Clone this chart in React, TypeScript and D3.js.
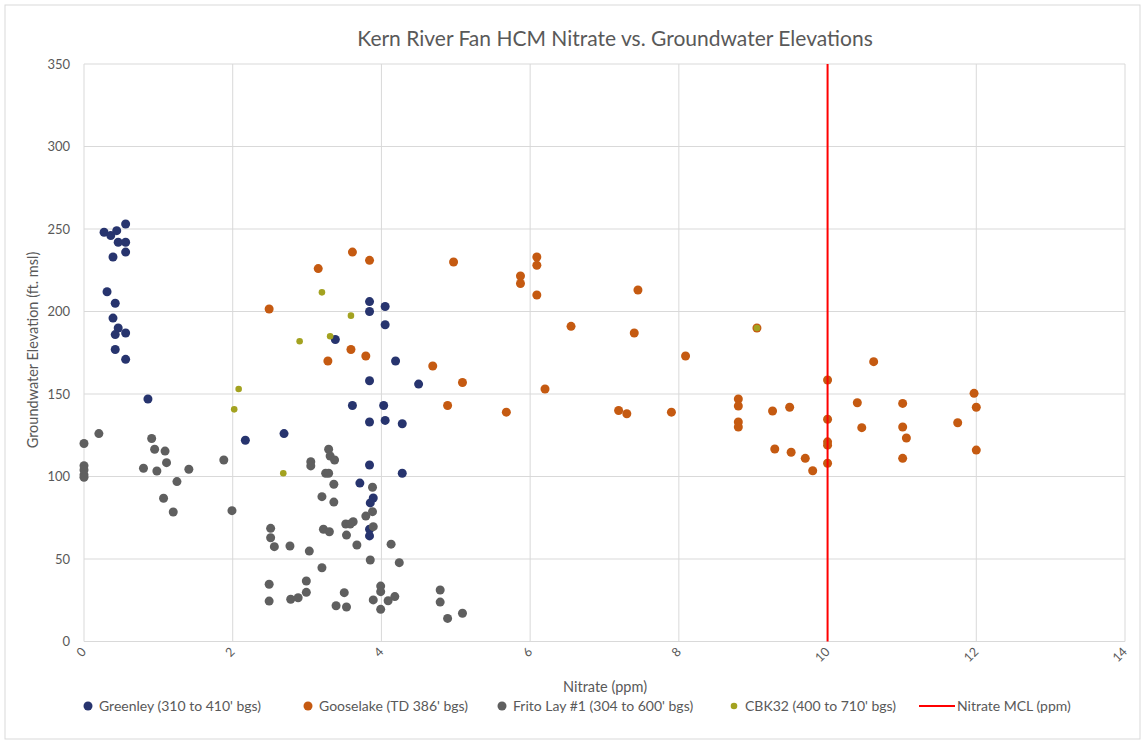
import React from "react";
import * as d3 from "d3";

const TITLE = "Kern River Fan HCM Nitrate vs. Groundwater Elevations";
const X_TICKS = [0, 2, 4, 6, 8, 10, 12, 14];
const Y_TICKS = [0, 50, 100, 150, 200, 250, 300, 350];
const MCL = 10;

const greenley: [number, number][] = [
  [0.27, 248], [0.36, 246], [0.44, 249], [0.56, 253], [0.46, 242], [0.56, 242],
  [0.56, 236], [0.39, 233], [0.31, 212], [0.42, 205], [0.39, 196], [0.46, 190],
  [0.42, 186], [0.56, 187], [0.42, 177], [0.56, 171], [0.86, 147],
  [2.17, 122], [2.69, 126], [3.61, 143], [4.03, 143], [3.84, 133], [4.05, 134],
  [4.28, 132], [3.84, 107], [4.28, 102], [3.71, 96], [3.89, 87], [3.85, 84],
  [3.84, 68], [3.84, 64], [3.84, 206], [3.84, 200], [4.05, 203], [4.05, 192],
  [3.38, 183], [4.19, 170], [3.84, 158], [4.5, 156],
];

const gooselake: [number, number][] = [
  [3.61, 236], [3.84, 231], [4.97, 230], [3.15, 226], [2.49, 201.5], [3.59, 177],
  [3.79, 173], [3.28, 170], [4.69, 167], [5.09, 157], [4.89, 143], [6.09, 233],
  [6.09, 228], [5.87, 221.5], [5.87, 217], [6.09, 210], [7.45, 213], [6.55, 191],
  [7.4, 187], [8.09, 173], [6.2, 153], [5.68, 139], [7.19, 140], [7.3, 138],
  [7.9, 139], [9.05, 190], [8.8, 147], [8.8, 142.7], [8.8, 133], [8.8, 130],
  [9.26, 139.7], [9.49, 142], [10.0, 158.5], [10.0, 134.7], [10.0, 121],
  [10.0, 119], [10.0, 108], [9.29, 116.7], [9.51, 114.7], [9.7, 111], [9.8, 103.5],
  [10.62, 169.6], [10.4, 144.7], [10.46, 129.6], [11.01, 144.3], [11.01, 130],
  [11.06, 123.3], [11.01, 111], [11.75, 132.6], [11.97, 150.4], [12.0, 142],
  [12.0, 116],
];

const fritoLay: [number, number][] = [
  [0.0, 120], [0.2, 126], [0.0, 106.5], [0.0, 104], [0.0, 101], [0.0, 99.5],
  [0.91, 123], [0.95, 116.5], [1.09, 115.4], [1.11, 108.4], [0.8, 105], [0.98, 103.3],
  [1.25, 96.9], [1.41, 104.4], [1.07, 86.8], [1.2, 78.5], [1.88, 110], [1.99, 79.3],
  [3.29, 116.5], [3.31, 112.4], [3.37, 110], [3.05, 109], [3.05, 106.4], [3.25, 102],
  [3.29, 102], [3.36, 95.3], [3.2, 87.8], [3.36, 84.5], [3.88, 93.5], [3.88, 78.7],
  [3.79, 76], [3.89, 69.6], [3.52, 71.2], [3.62, 72.6], [3.58, 71.2], [3.22, 68],
  [3.3, 66.5], [3.53, 64.5], [3.67, 58.5], [4.13, 59], [2.51, 68.6], [2.51, 62.9],
  [2.56, 57.5], [2.77, 57.9], [3.03, 54.8], [3.2, 44.7], [3.85, 49.4], [4.24, 47.8],
  [2.49, 34.7], [2.99, 36.7], [2.99, 29.8], [2.49, 24.5], [2.78, 25.6], [2.88, 26.5],
  [3.5, 29.6], [3.39, 21.7], [3.53, 20.9], [3.99, 33.6], [3.99, 30.2], [3.89, 25.2],
  [3.99, 19.5], [4.09, 24.7], [4.18, 27.2], [4.79, 31.2], [4.79, 23.9], [4.89, 14],
  [5.09, 17.1],
];

const cbk32: [number, number][] = [
  [3.2, 211.6], [3.59, 197.5], [2.9, 182], [3.31, 185], [2.08, 153], [2.02, 140.7],
  [2.68, 102], [9.05, 190],
];

const SERIES = [
  { name: "Greenley (310 to 410' bgs)", data: greenley, color: "#27346e", r: 4.5 },
  { name: "Gooselake (TD 386' bgs)", data: gooselake, color: "#c55a11", r: 4.5 },
  { name: "Frito Lay #1 (304 to 600' bgs)", data: fritoLay, color: "#5f5f5f", r: 4.5 },
  { name: "CBK32 (400 to 710' bgs)", data: cbk32, color: "#a3a220", r: 3.3 },
];
const MCL_NAME = "Nitrate MCL (ppm)";
const LEGEND_X = [88, 308, 502, 734];

const W = 1143;
const H = 744;
const FONT = "Lato, 'Open Sans', sans-serif";
const TXT = "#595959";

export default function App() {
  const x = d3.scaleLinear().domain([0, 14]).range([84, 1125]);
  const y = d3.scaleLinear().domain([0, 350]).range([641.5, 64]);

  return (
    <svg
      width={W}
      height={H}
      style={{ position: "absolute", left: 0, top: 0, background: "#fff" }}
      fontFamily={FONT}
    >
      <rect x={5} y={5} width={1135} height={734} fill="#fff" stroke="#d9d9d9" />
      <text x={615} y={46} textAnchor="middle" fontSize={21} fill={TXT}>
        {TITLE}
      </text>

      {Y_TICKS.map((t) => (
        <g key={"y" + t}>
          <line x1={x(0)} x2={x(14)} y1={y(t)} y2={y(t)} stroke="#d9d9d9" />
          <text x={70} y={y(t) + 4.5} textAnchor="end" fontSize={13} fill={TXT}>
            {t}
          </text>
        </g>
      ))}
      {X_TICKS.map((t) => (
        <g key={"x" + t}>
          <line x1={x(t)} x2={x(t)} y1={y(0)} y2={y(350)} stroke="#d9d9d9" />
          <text
            transform={`translate(${x(t) + 3},${y(0) + 11}) rotate(-45)`}
            textAnchor="end"
            fontSize={12.5}
            fill={TXT}
          >
            {t}
          </text>
        </g>
      ))}

      <text
        transform={`translate(38,350) rotate(-90)`}
        textAnchor="middle"
        fontSize={14.5}
        fill={TXT}
      >
        Groundwater Elevation (ft. msl)
      </text>
      <text x={605} y={692} textAnchor="middle" fontSize={14.5} fill={TXT}>
        Nitrate (ppm)
      </text>

      {SERIES.map((s) => (
        <g key={s.name}>
          {s.data.map((d, i) => (
            <circle key={i} cx={x(d[0])} cy={y(d[1])} r={s.r} fill={s.color} />
          ))}
        </g>
      ))}

      <line x1={x(MCL)} x2={x(MCL)} y1={y(0)} y2={y(350)} stroke="#ff0000" strokeWidth={2} />

      {SERIES.map((s, i) => (
        <g key={"lg" + i}>
          <circle cx={LEGEND_X[i]} cy={706} r={s.r} fill={s.color} />
          <text x={LEGEND_X[i] + 11} y={711} fontSize={14} fill={TXT}>
            {s.name}
          </text>
        </g>
      ))}
      <line x1={919} x2={955} y1={706} y2={706} stroke="#ff0000" strokeWidth={2} />
      <text x={957} y={711} fontSize={14} fill={TXT}>
        {MCL_NAME}
      </text>
    </svg>
  );
}
